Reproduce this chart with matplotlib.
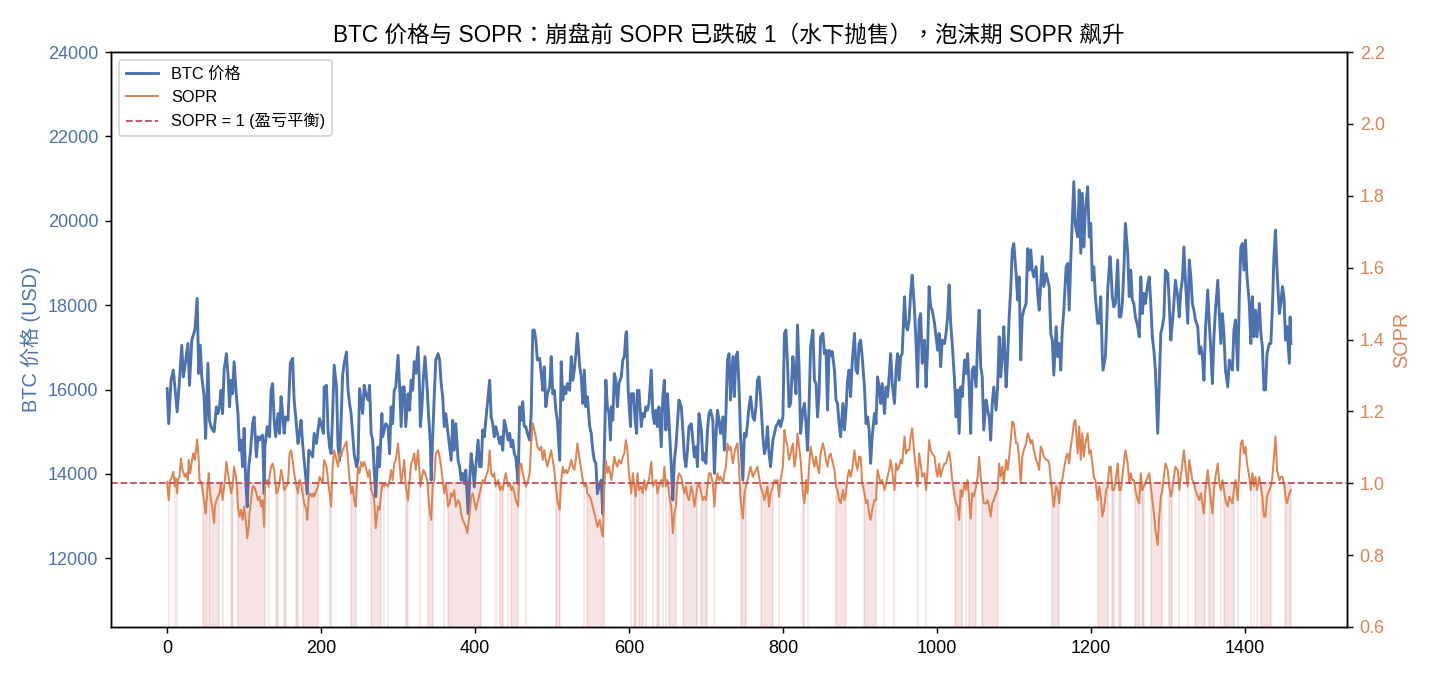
import numpy as np
import matplotlib
matplotlib.use("Agg")
import matplotlib.pyplot as plt

plt.rcParams['font.family'] = ['Liberation Sans', 'Noto Sans CJK SC']
plt.rcParams['axes.unicode_minus'] = False

BLUE = '#4c72b0'
ORANGE = '#dd8452'
RED = '#c44e52'

# day index / BTC price
price_day = [
    0, 2, 5, 8, 13, 16, 19, 21, 23, 27,
    29, 32, 36, 39, 41, 43, 45, 48, 50, 53,
    55, 57, 59, 61, 64, 66, 68, 70, 72, 74,
    77, 79, 81, 83, 85, 87, 90, 92, 94, 96,
    98, 100, 102, 104, 106, 108, 111, 113, 116, 118,
    120, 122, 124, 126, 127, 130, 133, 135, 137, 139,
    141, 144, 146, 148, 150, 152, 154, 157, 160, 163,
    165, 167, 170, 172, 174, 176, 178, 182, 184, 187,
    189, 191, 194, 196, 198, 200, 203, 204, 207, 209,
    211, 213, 215, 217, 220, 222, 224, 226, 228, 230,
    233, 235, 237, 239, 241, 243, 246, 248, 250, 254,
    256, 258, 261, 263, 265, 267, 269, 271, 274, 276,
    279, 280, 282, 284, 287, 289, 291, 293, 295, 297,
    300, 302, 304, 306, 308, 310, 313, 315, 317, 319,
    321, 323, 326, 328, 329, 331, 333, 335, 338, 339,
    342, 343, 345, 347, 349, 352, 354, 356, 358, 360,
    362, 365, 367, 369, 371, 373, 375, 378, 380, 382,
    384, 386, 388, 391, 393, 395, 397, 399, 401, 404,
    406, 408, 410, 412, 414, 417, 419, 421, 423, 425,
    427, 430, 432, 434, 436, 438, 440, 443, 445, 447,
    449, 451, 453, 456, 458, 460, 462, 464, 466, 468,
    471, 473, 475, 477, 479, 481, 484, 486, 488, 490,
    492, 494, 497, 499, 501, 503, 505, 507, 510, 512,
    514, 516, 518, 520, 523, 525, 527, 529, 531, 533,
    536, 538, 540, 542, 544, 546, 549, 551, 553, 555,
    557, 559, 562, 564, 566, 568, 570, 572, 574, 576,
    577, 579, 581, 583, 585, 587, 590, 592, 594, 596,
    597, 599, 602, 603, 606, 608, 610, 611, 613, 616,
    618, 620, 622, 624, 626, 629, 631, 633, 635, 637,
    639, 642, 644, 646, 648, 650, 652, 655, 657, 659,
    661, 663, 665, 668, 670, 672, 674, 676, 678, 681,
    683, 685, 687, 689, 691, 694, 696, 698, 700, 702,
    704, 706, 709, 711, 713, 715, 717, 719, 722, 724,
    726, 728, 730, 732, 735, 737, 739, 741, 743, 745,
    748, 750, 752, 754, 756, 758, 761, 763, 765, 767,
    769, 771, 774, 776, 778, 780, 782, 784, 787, 789,
    791, 793, 795, 797, 800, 802, 804, 806, 808, 810,
    813, 815, 817, 819, 821, 823, 826, 828, 830, 832,
    834, 836, 839, 841, 843, 845, 847, 849, 852, 854,
    856, 858, 860, 862, 864, 867, 869, 871, 873, 875,
    878, 880, 882, 884, 886, 888, 890, 893, 895, 897,
    899, 901, 903, 906, 908, 910, 912, 914, 916, 919,
    921, 923, 925, 927, 929, 932, 934, 936, 938, 940,
    942, 945, 947, 949, 951, 953, 955, 958, 960, 962,
    964, 966, 968, 971, 973, 975, 977, 979, 981, 984,
    986, 988, 990, 992, 994, 997, 999, 1001, 1003, 1005,
    1007, 1010, 1012, 1014, 1016, 1018, 1020, 1023, 1025, 1027,
    1029, 1031, 1033, 1036, 1038, 1040, 1042, 1044, 1046, 1048,
    1051, 1053, 1055, 1057, 1059, 1061, 1064, 1066, 1068, 1070,
    1072, 1074, 1077, 1079, 1081, 1083, 1085, 1087, 1090, 1092,
    1094, 1096, 1098, 1100, 1103, 1105, 1107, 1109, 1111, 1113,
    1116, 1118, 1120, 1122, 1124, 1126, 1129, 1131, 1133, 1135,
    1137, 1139, 1142, 1144, 1146, 1148, 1150, 1152, 1155, 1157,
    1159, 1161, 1163, 1165, 1168, 1170, 1172, 1174, 1176, 1178,
    1180, 1183, 1185, 1187, 1189, 1191, 1193, 1196, 1198, 1200,
    1202, 1204, 1206, 1209, 1211, 1213, 1215, 1216, 1219, 1221,
    1222, 1225, 1226, 1228, 1230, 1232, 1235, 1237, 1239, 1241,
    1243, 1245, 1248, 1250, 1252, 1254, 1256, 1258, 1261, 1263,
    1265, 1267, 1269, 1271, 1274, 1276, 1278, 1280, 1282, 1284,
    1287, 1289, 1291, 1293, 1295, 1297, 1300, 1302, 1304, 1306,
    1308, 1310, 1313, 1315, 1317, 1319, 1321, 1323, 1326, 1328,
    1330, 1332, 1334, 1336, 1339, 1341, 1343, 1345, 1347, 1349,
    1352, 1354, 1356, 1358, 1360, 1362, 1365, 1367, 1369, 1371,
    1373, 1375, 1378, 1380, 1382, 1384, 1386, 1388, 1391, 1393,
    1395, 1397, 1399, 1401, 1403, 1406, 1408, 1410, 1412, 1414,
    1416, 1419, 1421, 1423, 1425, 1427, 1429, 1432, 1434, 1436,
    1438, 1440, 1442, 1445, 1447, 1449, 1451, 1453, 1455, 1458,
    1459, 1460,
]
price = [
    16020, 15190, 16220, 16460, 15470, 16220, 17050, 16300, 16540, 17090,
    16100, 17170, 17410, 18160, 16380, 17050, 16300, 15830, 14840, 16620,
    15270, 15120, 15040, 15000, 15590, 15430, 15590, 15980, 15430, 16460,
    16850, 16380, 15590, 16220, 15900, 16660, 15830, 15430, 14560, 14800,
    14170, 15080, 13850, 13220, 14170, 14480, 15190, 15350, 14400, 14880,
    14800, 14880, 14920, 13530, 14640, 15120, 14880, 15980, 16140, 15270,
    14880, 15430, 14960, 15830, 15430, 14960, 15350, 15270, 16620, 16740,
    15750, 15350, 14720, 14960, 15270, 14720, 14320, 13530, 14560, 14480,
    14400, 14960, 14720, 15040, 15310, 15190, 14960, 16060, 16100, 15040,
    14640, 14480, 15430, 16580, 16060, 14640, 14320, 15270, 16340, 16620,
    16890, 15980, 15670, 15430, 14960, 14480, 14170, 14320, 16020, 15430,
    16100, 15900, 15750, 16100, 14960, 14800, 14090, 13460, 14640, 14170,
    15430, 14880, 15040, 15190, 15120, 14480, 15590, 15190, 15980, 16060,
    16810, 16060, 15120, 16060, 16060, 15120, 15900, 15510, 16220, 15980,
    16660, 16380, 17010, 15980, 15120, 15590, 16300, 16780, 15980, 15590,
    14720, 13850, 14880, 15830, 16700, 16850, 16700, 16140, 15830, 15120,
    15430, 14960, 14640, 14320, 15270, 14560, 15190, 14320, 14170, 13850,
    14010, 13770, 14090, 13060, 13850, 14480, 14170, 13690, 14170, 14800,
    14170, 14170, 15040, 14880, 15270, 15830, 16220, 15350, 15190, 14880,
    15120, 14880, 14720, 14880, 14560, 15270, 15120, 14800, 14960, 14640,
    14800, 14480, 14400, 13770, 15590, 15270, 15710, 15120, 15120, 14960,
    14800, 15430, 17410, 17410, 17170, 16700, 16740, 16380, 15980, 16540,
    15590, 15900, 16060, 16780, 15900, 15980, 15510, 15270, 14320, 16660,
    15750, 16060, 15900, 16140, 15980, 16780, 16220, 16460, 16850, 17330,
    16540, 16300, 15670, 16460, 15590, 15830, 15120, 14960, 14560, 14320,
    14250, 13530, 13770, 13850, 13060, 14480, 16220, 15590, 15430, 14800,
    15590, 15270, 16380, 16220, 15590, 16140, 16300, 16700, 16780, 17330,
    17370, 15980, 15120, 15900, 15900, 15270, 14960, 15980, 15980, 15120,
    15430, 15350, 15590, 15510, 15670, 16460, 15430, 15190, 15510, 15120,
    15590, 14640, 15830, 16220, 15040, 15900, 15270, 14170, 13380, 14320,
    14640, 15190, 15750, 15590, 15040, 14400, 14170, 14560, 15120, 15190,
    14800, 14400, 14640, 14170, 15430, 15040, 14320, 14480, 14250, 15040,
    15430, 15510, 15270, 14010, 14880, 15510, 15270, 14960, 15350, 14560,
    15430, 16700, 16850, 15750, 16780, 15830, 16780, 16890, 16060, 14880,
    13850, 14960, 14880, 15190, 15590, 15830, 15350, 15270, 15590, 16220,
    16300, 15830, 14880, 14480, 14640, 15120, 14480, 14170, 14800, 14960,
    15120, 15190, 15270, 15120, 15350, 17330, 17410, 16620, 15590, 15670,
    16780, 16380, 15900, 17530, 16540, 14960, 15510, 15670, 15190, 14560,
    15590, 17010, 17410, 16220, 16140, 15350, 15900, 17250, 17330, 16850,
    16930, 15510, 16930, 16800, 16900, 16460, 15750, 15670, 15190, 14880,
    15670, 15040, 15510, 16220, 16460, 15830, 16620, 17330, 16460, 16380,
    17090, 17170, 16780, 16060, 15190, 15350, 15040, 14250, 14880, 15430,
    15190, 16300, 16060, 15670, 16140, 15430, 16060, 15830, 16300, 16850,
    16140, 15670, 16460, 16850, 16220, 16780, 16850, 18200, 17490, 17410,
    17650, 18280, 18710, 17880, 17090, 16060, 17650, 17800, 16620, 17170,
    16060, 16930, 18440, 17960, 17880, 17570, 17250, 16930, 17330, 16540,
    17170, 17090, 17330, 17720, 18480, 17570, 17090, 16220, 15350, 15990,
    14960, 16060, 15830, 16700, 16380, 16850, 16060, 14960, 16460, 16540,
    16060, 17170, 17880, 16540, 16300, 15040, 15750, 15510, 15350, 14800,
    15670, 16060, 15510, 16060, 17250, 16300, 16780, 17490, 16060, 16780,
    17720, 18360, 19310, 19460, 18750, 18120, 18670, 16700, 17720, 17880,
    18040, 19340, 18830, 19310, 18830, 18670, 18910, 18280, 17880, 18510,
    19150, 18440, 18750, 18590, 18440, 17330, 17170, 16340, 17490, 16780,
    17090, 16460, 17410, 17880, 18910, 18990, 17880, 19070, 20020, 20930,
    19900, 19620, 20730, 19230, 20650, 19380, 20250, 20810, 19620, 19940,
    18590, 18910, 18200, 17570, 17570, 18200, 16780, 16460, 16780, 17720,
    18360, 19150, 18910, 18200, 17960, 18040, 19070, 17720, 17720, 18040,
    18830, 19940, 19230, 18200, 18830, 18120, 18040, 17720, 17490, 17250,
    18670, 17800, 18280, 18040, 18510, 18670, 18040, 17250, 16930, 16460,
    14960, 16140, 17330, 17490, 17720, 18830, 18750, 18040, 17170, 17570,
    18040, 18590, 18200, 17720, 18360, 18590, 19380, 18590, 17570, 19070,
    18670, 18040, 17880, 17650, 17490, 16850, 17010, 16780, 16220, 17410,
    18360, 17570, 16930, 16140, 17250, 17880, 18590, 17800, 17090, 17800,
    17330, 16460, 16060, 16700, 16540, 16460, 17410, 17650, 16460, 18200,
    19380, 19460, 18830, 19540, 18670, 18040, 17090, 18200, 17250, 17880,
    17250, 18040, 17330, 17010, 15990, 15990, 16850, 17090, 17090, 17960,
    19150, 19780, 18830, 17800, 18040, 18440, 18200, 17170, 17490, 16620,
    17720, 17090,
]

# day index / SOPR
sopr_day = [
    0, 2, 4, 6, 8, 10, 11, 13, 14, 16,
    18, 20, 23, 25, 27, 28, 30, 33, 34, 36,
    39, 41, 42, 44, 46, 49, 50, 52, 54, 55,
    57, 59, 61, 62, 64, 66, 68, 70, 72, 75,
    77, 79, 81, 83, 85, 87, 90, 92, 94, 96,
    98, 100, 103, 104, 106, 107, 109, 111, 113, 116,
    118, 120, 122, 124, 126, 127, 130, 132, 133, 135,
    137, 139, 142, 144, 146, 148, 150, 152, 155, 157,
    159, 161, 163, 165, 168, 170, 172, 174, 176, 178,
    181, 182, 184, 186, 188, 190, 191, 194, 196, 198,
    200, 202, 204, 207, 209, 211, 213, 215, 217, 220,
    222, 224, 226, 228, 230, 233, 235, 237, 239, 241,
    243, 245, 248, 250, 252, 254, 256, 258, 261, 263,
    265, 267, 269, 271, 274, 276, 278, 280, 282, 284,
    287, 289, 291, 293, 295, 297, 300, 302, 304, 306,
    308, 310, 313, 315, 317, 319, 321, 323, 326, 328,
    329, 331, 333, 335, 338, 339, 341, 343, 345, 347,
    349, 352, 354, 356, 358, 360, 362, 365, 367, 369,
    371, 373, 375, 378, 380, 382, 384, 386, 388, 390,
    393, 395, 397, 399, 401, 404, 406, 408, 410, 412,
    414, 417, 419, 421, 423, 425, 427, 430, 432, 434,
    436, 438, 440, 443, 445, 447, 449, 451, 453, 456,
    458, 460, 462, 464, 466, 468, 471, 473, 475, 477,
    479, 481, 484, 486, 488, 490, 492, 494, 497, 499,
    501, 503, 505, 507, 510, 512, 514, 516, 518, 520,
    523, 525, 527, 529, 531, 533, 536, 538, 540, 542,
    544, 546, 549, 551, 553, 555, 557, 559, 562, 564,
    566, 568, 570, 572, 574, 577, 579, 581, 583, 585,
    587, 590, 592, 594, 596, 598, 600, 603, 605, 607,
    609, 611, 613, 616, 618, 620, 622, 624, 626, 629,
    631, 633, 635, 637, 639, 642, 644, 646, 648, 650,
    652, 655, 657, 659, 661, 663, 665, 668, 670, 672,
    674, 676, 678, 681, 683, 685, 687, 689, 691, 694,
    696, 698, 700, 702, 704, 706, 709, 711, 713, 715,
    717, 719, 722, 724, 726, 728, 730, 732, 735, 737,
    739, 741, 743, 745, 748, 750, 752, 754, 756, 758,
    761, 763, 765, 767, 769, 771, 774, 776, 778, 780,
    782, 784, 787, 789, 791, 793, 795, 797, 800, 802,
    804, 806, 808, 810, 813, 815, 817, 819, 821, 823,
    826, 828, 830, 832, 834, 836, 839, 841, 843, 845,
    847, 849, 852, 854, 856, 858, 860, 862, 864, 867,
    869, 871, 873, 875, 878, 880, 882, 884, 886, 888,
    890, 893, 895, 897, 899, 901, 903, 906, 908, 910,
    912, 914, 916, 919, 921, 923, 925, 927, 929, 932,
    934, 936, 938, 940, 942, 945, 947, 949, 951, 953,
    955, 958, 960, 962, 964, 966, 968, 971, 973, 975,
    977, 979, 981, 984, 986, 988, 990, 992, 994, 997,
    999, 1001, 1003, 1005, 1007, 1010, 1012, 1014, 1016, 1018,
    1020, 1023, 1025, 1027, 1029, 1031, 1033, 1036, 1038, 1040,
    1042, 1044, 1046, 1048, 1051, 1053, 1055, 1057, 1059, 1061,
    1064, 1066, 1068, 1070, 1072, 1074, 1077, 1079, 1081, 1083,
    1085, 1087, 1090, 1092, 1094, 1096, 1098, 1100, 1103, 1105,
    1107, 1109, 1111, 1113, 1116, 1118, 1120, 1122, 1124, 1126,
    1129, 1131, 1133, 1135, 1137, 1139, 1142, 1144, 1146, 1148,
    1150, 1152, 1155, 1157, 1159, 1161, 1163, 1165, 1168, 1170,
    1172, 1174, 1176, 1178, 1180, 1183, 1185, 1187, 1189, 1191,
    1193, 1196, 1198, 1200, 1202, 1204, 1206, 1209, 1211, 1213,
    1215, 1217, 1220, 1222, 1224, 1226, 1228, 1230, 1232, 1235,
    1237, 1239, 1241, 1243, 1245, 1248, 1250, 1252, 1254, 1256,
    1258, 1261, 1263, 1265, 1267, 1269, 1271, 1274, 1276, 1278,
    1280, 1282, 1284, 1287, 1289, 1291, 1293, 1295, 1297, 1300,
    1302, 1304, 1306, 1308, 1310, 1313, 1315, 1317, 1319, 1321,
    1323, 1326, 1328, 1330, 1332, 1334, 1336, 1339, 1341, 1343,
    1345, 1347, 1349, 1352, 1354, 1356, 1358, 1360, 1362, 1365,
    1367, 1369, 1371, 1373, 1375, 1378, 1380, 1382, 1384, 1386,
    1388, 1391, 1393, 1395, 1397, 1399, 1401, 1403, 1406, 1408,
    1410, 1412, 1414, 1416, 1419, 1421, 1423, 1425, 1427, 1429,
    1432, 1434, 1436, 1438, 1440, 1442, 1445, 1447, 1449, 1451,
    1453, 1455, 1458, 1460,
]
sopr = [
    1.004, 0.953, 1.009, 1.018, 1.032, 0.991, 1.014, 0.972, 1.009, 1.018,
    1.069, 1.037, 1.018, 1.028, 1.009, 1.065, 1.028, 1.074, 1.083, 1.065,
    1.122, 1.065, 1.009, 1.004, 0.981, 0.935, 0.916, 0.972, 1.028, 0.991,
    0.953, 0.926, 0.889, 0.935, 0.953, 0.963, 0.972, 1.000, 0.953, 1.009,
    1.060, 1.028, 1.000, 0.972, 0.991, 1.046, 1.009, 0.935, 0.907, 0.926,
    0.898, 0.935, 0.879, 0.847, 0.879, 0.916, 0.953, 0.991, 0.991, 0.972,
    0.953, 0.963, 0.935, 0.953, 0.879, 0.991, 1.009, 0.991, 1.018, 1.046,
    1.055, 1.037, 0.972, 0.981, 1.000, 1.037, 1.018, 0.981, 0.991, 1.000,
    1.083, 1.092, 1.065, 1.028, 0.991, 0.972, 1.009, 1.000, 0.972, 0.944,
    0.926, 0.898, 0.963, 0.972, 0.963, 0.972, 0.963, 0.981, 0.991, 1.018,
    1.009, 1.000, 1.065, 1.046, 1.009, 0.972, 0.935, 1.046, 1.092, 1.065,
    1.046, 1.083, 1.074, 1.092, 1.102, 1.116, 1.065, 1.009, 0.972, 0.991,
    0.953, 0.935, 1.046, 1.028, 1.060, 1.046, 1.060, 1.046, 1.018, 1.037,
    0.981, 0.972, 0.953, 0.875, 0.935, 0.926, 0.972, 1.000, 0.991, 1.000,
    0.991, 1.009, 1.037, 1.009, 1.055, 1.065, 1.111, 1.055, 1.000, 1.028,
    1.065, 0.991, 0.953, 1.009, 1.055, 1.065, 1.083, 1.037, 1.092, 1.028,
    0.991, 1.018, 1.037, 1.028, 1.009, 0.972, 0.926, 0.898, 0.991, 1.009,
    1.083, 1.092, 1.074, 1.046, 1.009, 0.972, 1.000, 0.935, 0.944, 0.972,
    0.963, 0.981, 0.935, 0.953, 0.944, 0.916, 0.898, 0.889, 0.879, 0.861,
    0.916, 0.963, 0.972, 0.953, 0.926, 0.953, 0.972, 0.991, 1.009, 1.000,
    1.018, 1.037, 1.092, 1.028, 1.018, 1.028, 0.991, 1.009, 0.981, 0.991,
    0.981, 1.009, 1.028, 0.991, 1.000, 0.981, 0.991, 0.972, 0.953, 0.935,
    1.046, 1.055, 1.028, 1.009, 0.991, 1.000, 1.028, 1.111, 1.167, 1.148,
    1.130, 1.102, 1.092, 1.102, 1.065, 1.092, 1.065, 1.046, 1.074, 1.092,
    1.065, 1.037, 0.991, 0.953, 0.926, 1.009, 1.046, 1.028, 1.037, 1.028,
    1.046, 1.065, 1.046, 1.037, 1.065, 1.111, 1.065, 1.037, 1.009, 0.991,
    1.000, 0.972, 0.963, 0.953, 0.935, 0.916, 0.898, 0.879, 0.898, 0.870,
    0.852, 0.991, 1.065, 1.028, 1.046, 1.009, 1.037, 1.074, 1.055, 1.046,
    1.065, 1.055, 1.074, 1.083, 1.120, 1.092, 1.028, 0.972, 1.028, 0.991,
    0.963, 1.028, 0.981, 0.991, 0.972, 1.009, 0.981, 1.000, 1.009, 1.060,
    0.991, 1.000, 1.009, 0.972, 0.991, 1.009, 0.991, 1.046, 0.991, 1.009,
    0.972, 0.935, 0.861, 0.916, 0.935, 1.009, 1.028, 1.018, 0.991, 0.972,
    0.991, 0.963, 0.953, 0.991, 0.972, 0.935, 0.963, 0.991, 1.000, 0.972,
    0.953, 0.963, 0.953, 0.991, 1.028, 1.028, 1.000, 0.935, 1.000, 1.028,
    1.009, 1.018, 1.000, 1.028, 1.046, 1.111, 1.092, 1.102, 1.055, 1.083,
    1.102, 1.111, 1.046, 0.953, 0.902, 0.972, 0.991, 1.009, 1.028, 1.046,
    1.018, 1.028, 1.037, 1.046, 1.018, 0.991, 0.972, 0.953, 0.972, 0.991,
    0.935, 0.972, 0.991, 1.009, 1.000, 1.009, 0.963, 1.009, 1.046, 1.148,
    1.120, 1.102, 1.065, 1.083, 1.111, 1.046, 1.074, 1.139, 1.102, 1.065,
    0.972, 0.944, 1.009, 0.972, 1.046, 1.102, 1.065, 1.046, 1.074, 1.046,
    1.028, 1.083, 1.111, 1.092, 1.065, 1.046, 1.074, 1.083, 1.065, 1.037,
    0.991, 0.981, 0.953, 0.944, 0.981, 0.953, 0.972, 1.018, 1.037, 1.018,
    1.037, 1.092, 1.055, 1.037, 1.074, 1.074, 1.000, 0.972, 0.944, 0.953,
    0.916, 0.898, 0.926, 0.953, 0.953, 1.037, 1.018, 1.000, 1.009, 0.981,
    1.000, 1.018, 1.037, 1.065, 1.037, 0.981, 1.055, 1.037, 1.046, 1.065,
    1.055, 1.130, 1.083, 1.092, 1.092, 1.130, 1.153, 1.074, 1.037, 0.991,
    1.083, 1.055, 1.018, 1.028, 0.981, 1.037, 1.120, 1.092, 1.083, 1.074,
    1.037, 1.018, 1.055, 1.018, 1.037, 1.055, 1.055, 1.074, 1.088, 1.055,
    1.009, 0.963, 0.944, 0.935, 0.898, 0.981, 0.963, 1.000, 0.981, 1.009,
    0.953, 0.902, 0.972, 0.963, 0.991, 1.018, 1.074, 1.018, 0.981, 0.944,
    0.944, 0.953, 0.935, 0.907, 0.944, 0.953, 0.972, 0.981, 1.055, 1.018,
    1.046, 1.000, 1.065, 1.037, 1.074, 1.120, 1.171, 1.167, 1.111, 1.111,
    1.065, 1.000, 1.074, 1.092, 1.111, 1.139, 1.130, 1.111, 1.120, 1.092,
    1.065, 1.055, 1.037, 1.102, 1.092, 1.074, 1.065, 1.065, 1.055, 1.009,
    0.972, 0.935, 0.991, 0.981, 0.944, 1.000, 1.009, 1.037, 1.074, 1.083,
    1.055, 1.102, 1.130, 1.167, 1.176, 1.083, 1.158, 1.065, 1.139, 1.074,
    1.111, 1.139, 1.083, 1.092, 1.055, 1.018, 1.009, 0.953, 0.991, 0.963,
    0.907, 0.926, 0.981, 0.991, 1.046, 1.046, 0.981, 0.981, 1.000, 1.055,
    0.981, 0.981, 1.018, 1.055, 1.092, 1.055, 1.000, 1.028, 1.009, 1.009,
    0.981, 0.953, 0.944, 1.028, 0.981, 0.991, 1.000, 1.018, 1.028, 0.991,
    0.953, 0.916, 0.870, 0.828, 0.907, 0.963, 0.981, 1.018, 1.055, 1.037,
    0.991, 0.963, 0.981, 1.018, 1.046, 1.037, 0.981, 1.018, 1.055, 1.092,
    1.046, 0.991, 1.065, 1.037, 1.009, 1.000, 0.981, 0.963, 0.953, 0.972,
    0.944, 0.916, 0.981, 1.037, 0.991, 0.953, 0.916, 0.981, 1.018, 1.055,
    1.000, 0.981, 1.009, 0.981, 0.953, 0.935, 0.963, 0.953, 0.944, 0.981,
    1.009, 0.953, 1.037, 1.111, 1.120, 1.083, 1.102, 1.055, 1.018, 0.981,
    1.028, 0.991, 1.018, 0.981, 1.018, 0.991, 0.963, 0.907, 0.907, 0.963,
    0.981, 0.991, 1.018, 1.074, 1.130, 1.037, 1.009, 1.018, 1.018, 1.000,
    0.963, 0.944, 0.972, 0.981,
]

fig, ax1 = plt.subplots(figsize=(11, 5.2), dpi=130)
fig.subplots_adjust(left=0.0776, right=0.942, top=0.923, bottom=0.0725)
ax2 = ax1.twinx()

l1, = ax1.plot(price_day, price, color=BLUE, lw=1.6)
l2, = ax2.plot(sopr_day, sopr, color=ORANGE, lw=1.1)
l3 = ax2.axhline(1, color=RED, ls='--', lw=1)

# shade the days where SOPR sits below 1
sd = np.array(sopr_day)
sv = np.array(sopr)
ax2.fill_between(sd, 0, 1, where=sv < 1, color=RED, alpha=0.15)

ax1.set_ylim(10370, 24000)
ax2.set_ylim(0.6, 2.2)

ax1.set_ylabel('BTC 价格 (USD)', color=BLUE, fontsize=11)
ax2.set_ylabel('SOPR', color=ORANGE, fontsize=11)
ax1.tick_params(axis='y', labelcolor=BLUE)
ax2.tick_params(axis='y', labelcolor=ORANGE)

# title font centres the full-width punctuation like the original
ax1.set_title('BTC 价格与 SOPR：崩盘前 SOPR 已跌破 1（水下抛售），泡沫期 SOPR 飙升',
              fontsize=12.5, family=['Liberation Sans', 'Noto Sans CJK TC'])
ax2.legend([l1, l2, l3], ['BTC 价格', 'SOPR', 'SOPR = 1 (盈亏平衡)'],
           loc='upper left', fontsize=9)

fig.savefig('out.png')
